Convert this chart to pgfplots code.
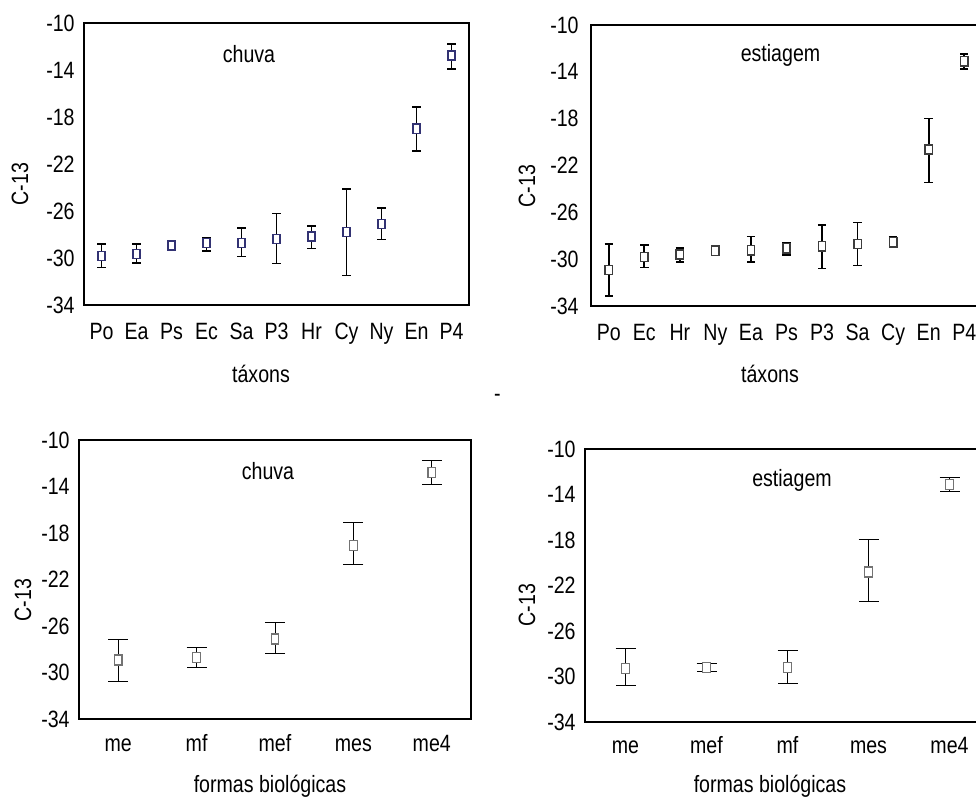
\documentclass[border=0pt]{standalone}
\usepackage{fontspec}
\setmainfont[FakeStretch=0.83]{Liberation Sans}
\usepackage{pgfplots}
\usepackage{pgfplotstable}
\pgfplotsset{compat=1.18}

\definecolor{navy}{RGB}{50,50,115}
\definecolor{dgrey}{RGB}{60,60,60}
\definecolor{mgrey}{RGB}{115,115,115}

\newcommand{\lblfont}{\fontsize{11.8pt}{14pt}\selectfont}

% x  mean  upper  lower
\pgfplotstableread{
x y hi lo
0 -29.84 -28.80 -30.80
1 -29.67 -28.80 -30.40
2 -28.94 -28.70 -29.25
3 -28.74 -28.26 -29.39
4 -28.74 -27.43 -29.87
5 -28.37 -26.22 -30.46
6 -28.17 -27.27 -29.19
7 -27.80 -24.12 -31.48
8 -27.10 -25.74 -28.43
9 -19.00 -17.16 -20.87
10 -12.77 -11.78 -13.90
}\chuvatax

\pgfplotstableread{
x y hi lo
0 -30.92 -28.70 -33.12
1 -29.83 -28.78 -30.72
2 -29.60 -29.04 -30.24
3 -29.27 -29.00 -29.55
4 -29.24 -28.07 -30.24
5 -29.07 -28.64 -29.64
6 -28.90 -27.08 -30.81
7 -28.70 -26.87 -30.55
8 -28.56 -28.10 -28.96
9 -20.63 -17.98 -23.45
10 -13.10 -12.45 -13.73
}\estiatax

\pgfplotstableread{
x y hi lo
0 -28.92 -27.20 -30.76
1 -28.72 -27.84 -29.53
2 -27.12 -25.68 -28.35
3 -19.06 -17.11 -20.75
4 -12.81 -11.75 -13.81
}\chuvaform

\pgfplotstableread{
x y hi lo
0 -29.30 -27.53 -30.80
1 -29.18 -28.86 -29.53
2 -29.21 -27.71 -30.62
3 -20.81 -17.93 -23.40
4 -13.11 -12.47 -13.70
}\estiaform

\pgfplotsset{
  panel/.style={
    scale only axis, clip=false,
    ymin=-34, ymax=-10,
    ytick={-34,-30,-26,-22,-18,-14,-10},
    yticklabels={-34,-30,-26,-22,-18,-14,-10},
    major tick length=0pt,
    tick label style={font=\lblfont},
    yticklabel style={anchor=east, inner sep=0pt, xshift=-4.5pt},
    xticklabel style={anchor=north, inner sep=0pt, text height=8.5pt, text depth=0pt},
  },
  taxa/.style={panel, xmin=-0.5, xmax=10.5, xtick={0,...,10},
    axis line style={line width=1pt}},
  formas/.style={panel, xmin=-0.5, xmax=4.5, xtick={0,...,4},
    axis line style={line width=0.6pt}},
  topplot/.style={only marks, mark=square*, mark size=2.3pt,
    mark options={xscale=0.8, fill=white, draw=#1, line width=0.7pt},
    error bars/.cd, y dir=both, y explicit,
    error bar style={line width=0.85pt, black},
    error mark options={rotate=90, mark size=2.1pt, line width=0.85pt, black}},
  botplot/.style={only marks, mark=square*, mark size=2.5pt,
    mark options={xscale=0.75, fill=white, draw=mgrey, line width=0.6pt},
    error bars/.cd, y dir=both, y explicit,
    error bar style={line width=0.5pt, black},
    error mark options={rotate=90, mark size=5pt, line width=0.5pt, black}},
}

\begin{document}
\begin{tikzpicture}
\useasboundingbox (0pt,0pt) rectangle (488pt,-400.5pt);
\clip (0pt,0pt) rectangle (488pt,-400.5pt);

% top left: chuva, taxa
\begin{axis}[taxa, at={(42pt,-152.5pt)}, anchor=south west,
  width=192.5pt, height=141pt,
  xticklabels={Po,Ea,Ps,Ec,Sa,P3,Hr,Cy,Ny,En,P4},
  xticklabel style={yshift=-8.8pt}]
\addplot[topplot=navy] table[x=x, y=y,
  y error plus expr=\thisrow{hi}-\thisrow{y},
  y error minus expr=\thisrow{y}-\thisrow{lo}] {\chuvatax};
\end{axis}

% top right: estiagem, taxa
\begin{axis}[taxa, at={(295.5pt,-153pt)}, anchor=south west,
  width=195.5pt, height=140.5pt,
  xticklabels={Po,Ec,Hr,Ny,Ea,Ps,P3,Sa,Cy,En,P4},
  xticklabel style={yshift=-8.5pt},
  yticklabel style={xshift=-1.5pt}]
\addplot[topplot=dgrey] table[x=x, y=y,
  y error plus expr=\thisrow{hi}-\thisrow{y},
  y error minus expr=\thisrow{y}-\thisrow{lo}] {\estiatax};
\end{axis}

% bottom left: chuva, formas
\begin{axis}[formas, at={(39.5pt,-359.5pt)}, anchor=south west,
  width=196pt, height=139.5pt,
  xticklabels={me,mf,mef,mes,me4},
  xticklabel style={yshift=-7.8pt}]
\addplot[botplot] table[x=x, y=y,
  y error plus expr=\thisrow{hi}-\thisrow{y},
  y error minus expr=\thisrow{y}-\thisrow{lo}] {\chuvaform};
\end{axis}

% bottom right: estiagem, formas
\begin{axis}[formas, at={(292.5pt,-361pt)}, anchor=south west,
  width=202.5pt, height=136.5pt,
  xticklabels={me,mef,mf,mes,me4},
  xticklabel style={yshift=-7pt}]
\addplot[botplot] table[x=x, y=y,
  y error plus expr=\thisrow{hi}-\thisrow{y},
  y error minus expr=\thisrow{y}-\thisrow{lo}] {\estiaform};
\end{axis}

% titles and labels
\begin{scope}[every node/.style={font=\lblfont, inner sep=0pt}]
\node[anchor=base] at (124.5pt,-31.5pt) {chuva};
\node[anchor=base] at (390.25pt,-30.85pt) {estiagem};
\node[anchor=base] at (134pt,-240pt) {chuva};
\node[anchor=base] at (396pt,-243.5pt) {estiagem};
\node[anchor=base] at (130.5pt,-191.35pt) {táxons};
\node[anchor=base] at (385pt,-191.35pt) {táxons};
\node[anchor=base] at (135pt,-396.5pt) {formas biológicas};
\node[anchor=base] at (385pt,-396.5pt) {formas biológicas};
\node[rotate=90] at (10pt,-92pt) {C-13};
\node[rotate=90] at (263.5pt,-93pt) {C-13};
\node[rotate=90] at (11.5pt,-300pt) {C-13};
\node[rotate=90] at (263.5pt,-302.5pt) {C-13};
\node[anchor=base] at (248.75pt,-201pt) {-};
\end{scope}
\end{tikzpicture}
\end{document}
